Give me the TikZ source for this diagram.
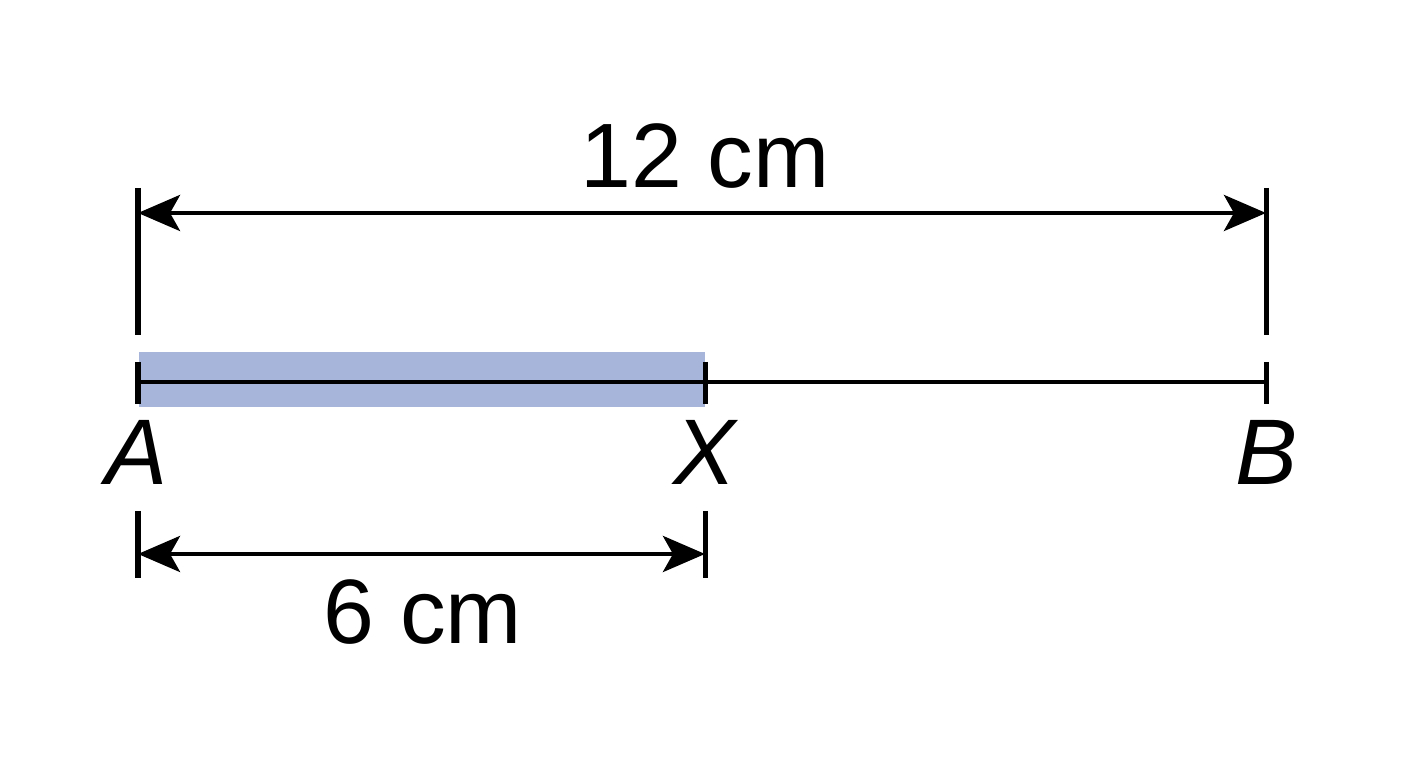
\documentclass[tikz,border=0pt]{standalone}
\usepackage{fontspec}
\setmainfont{Liberation Sans}
\usetikzlibrary{arrows.meta}
\definecolor{segblue}{RGB}{167,181,218}
\begin{document}
\begin{tikzpicture}[x=0.01cm,y=-0.01cm,
  dimline/.style={line width=0.045cm,{Stealth[length=0.42cm,width=0.36cm,inset=0.10cm]}-{Stealth[length=0.42cm,width=0.36cm,inset=0.10cm]}},
  tickline/.style={line width=0.05cm},
  mainline/.style={line width=0.045cm},
  lbl/.style={inner sep=0pt,font=\fontsize{26}{30}\selectfont},
  ptlbl/.style={inner sep=0pt,font=\fontsize{26.5}{30}\selectfont\itshape}]
\useasboundingbox (0,0) rectangle (1408,768);
\fill[segblue] (139,352) rectangle (705,407);
% coordinates
\coordinate (Ttop) at (138,188);
\coordinate (Tbot) at (138,335);
\coordinate (TRtop) at (1266,188);
\coordinate (TRbot) at (1266,335);
\coordinate (dA) at (138,213);
\coordinate (dB) at (1266,213);
\coordinate (pA) at (138,382);
\coordinate (pX) at (705,382);
\coordinate (pB) at (1266,382);
\coordinate (BAtop) at (138,511);
\coordinate (BAbot) at (138,578);
\coordinate (BXtop) at (705,511);
\coordinate (BXbot) at (705,578);
\coordinate (eA) at (138,554);
\coordinate (eX) at (705,554);
% extension ticks
\draw[tickline] (Ttop) -- (Tbot);
\draw[tickline] (TRtop) -- (TRbot);
\draw[dimline] (dA) -- (dB);
% main segment
\draw[mainline] (pA) -- (pB);
\draw[tickline] (138,362) -- (138,404);
\draw[tickline] (705,362) -- (705,404);
\draw[tickline] (1266,362) -- (1266,404);
% bottom dimension
\draw[tickline] (BAtop) -- (BAbot);
\draw[tickline] (BXtop) -- (BXbot);
\draw[dimline] (eA) -- (eX);
% labels
\node[lbl] (L12) at (705,156) {12 cm};
\node[lbl] (L6) at (423,612) {6 cm};
\node[ptlbl] (LA) at (137,452) {A};
\node[ptlbl] (LX) at (705,452) {X};
\node[ptlbl] (LB) at (1267,452) {B};
\end{tikzpicture}
\end{document}
